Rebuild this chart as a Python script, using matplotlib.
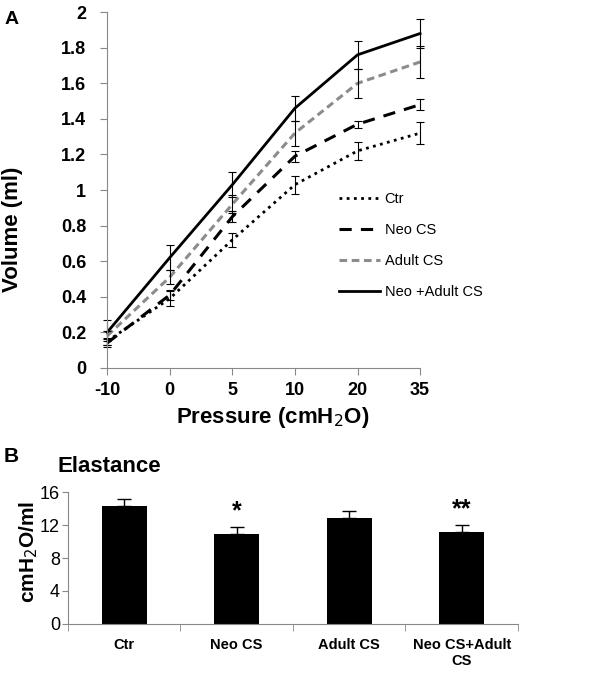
import matplotlib.pyplot as plt
import numpy as np

plt.rcParams['font.family'] = ['Liberation Sans', 'DejaVu Sans']

# Panel A: pressure-volume curves
pressure = ["-10", "0", "5", "10", "20", "35"]
vol_ctr = [0.15, 0.39, 0.72, 1.03, 1.22, 1.32]
err_ctr = [0.02, 0.04, 0.04, 0.05, 0.05, 0.06]
vol_neo = [0.14, 0.41, 0.85, 1.19, 1.37, 1.48]
err_neo = [0.02, 0.03, 0.03, 0.03, 0.02, 0.03]
vol_adult = [0.18, 0.51, 0.92, 1.32, 1.60, 1.72]
err_adult = [0.03, 0.04, 0.05, 0.07, 0.08, 0.09]
vol_both = [0.20, 0.62, 1.03, 1.46, 1.76, 1.88]
err_both = [0.07, 0.07, 0.07, 0.07, 0.08, 0.08]

# Panel B: elastance
groups = ["Ctr", "Neo CS", "Adult CS", "Neo CS+Adult\nCS"]
elastance = [14.3, 10.9, 12.8, 11.15]
elastance_err = [0.8, 0.85, 0.95, 0.85]
stars = ["", "*", "", "**"]

fig = plt.figure(figsize=(6.16, 6.75), dpi=100)

# ---- Panel A
ax = fig.add_axes([0.174, 0.455, 0.508, 0.527])
x = np.arange(len(pressure))
series = [
    (vol_ctr, err_ctr, "Ctr", dict(color="black", linestyle=(0, (1, 1.6)), lw=2)),
    (vol_neo, err_neo, "Neo CS", dict(color="black", linestyle=(0, (4, 3)), lw=2.2)),
    (vol_adult, err_adult, "Adult CS", dict(color="#8c8c8c", linestyle=(0, (2.5, 1.5)), lw=2.2)),
    (vol_both, err_both, "Neo +Adult CS", dict(color="black", linestyle="-", lw=2)),
]
for vals, errs, lab, style in series:
    ax.plot(x, vals, label=lab, clip_on=False, **style)
    eb = ax.errorbar(x, vals, yerr=errs, fmt="none", ecolor="black", elinewidth=0.8,
                     capsize=3, capthick=0.8)
    for art in eb.lines[1] + eb.lines[2]:
        art.set_clip_on(False)

ax.set_xlim(0, len(pressure) - 1)
ax.set_ylim(0, 2)
ax.set_xticks(x)
ax.set_xticklabels(pressure, fontweight="bold", fontsize=13)
ax.set_yticks(np.arange(0, 2.01, 0.2))
ax.set_yticklabels(["0", "0.2", "0.4", "0.6", "0.8", "1", "1.2", "1.4", "1.6", "1.8", "2"],
                   fontweight="bold", fontsize=13)
for s in ["top", "right"]:
    ax.spines[s].set_visible(False)
for s in ["left", "bottom"]:
    ax.spines[s].set_color("#888888")
ax.tick_params(colors="#888888", labelcolor="black", length=5)
ax.tick_params(axis="y", pad=10)
ax.tick_params(axis="x", pad=5)
ax.set_ylabel("Volume (ml)", fontweight="bold", fontsize=16)
ax.yaxis.set_label_coords(-0.27, 0.39)
ax.set_xlabel("Pressure (cmH$_2$O)", fontweight="bold", fontsize=16)
ax.xaxis.set_label_coords(0.53, -0.105)
ax.legend(loc="upper left", bbox_to_anchor=(0.7, 0.53), frameon=False, fontsize=10.5,
          handlelength=2.8, labelspacing=1.15, handletextpad=0.3)
fig.text(0.008, 0.965, "A", fontweight="bold", fontsize=14)

# ---- Panel B
bx = fig.add_axes([0.110, 0.0756, 0.731, 0.1954])
xb = np.arange(len(groups))
bx.bar(xb, elastance, width=0.4, color="black",
       yerr=[np.zeros(len(elastance)), elastance_err],
       error_kw=dict(ecolor="black", elinewidth=1, capsize=5, capthick=1))
for xi, v, e, st in zip(xb, elastance, elastance_err, stars):
    if st:
        bx.text(xi, v + e + 0.5, st, ha="center", va="bottom", fontweight="bold", fontsize=18)
bx.set_xlim(-0.5, len(groups) - 0.5)
bx.set_ylim(0, 16)
bx.set_yticks([0, 4, 8, 12, 16])
bx.tick_params(axis="y", labelsize=13, colors="#888888", labelcolor="black", length=4, pad=1.5)
bx.set_xticks(xb)
bx.set_xticklabels(groups, fontweight="bold", fontsize=10.5)
bx.tick_params(axis="x", length=0, pad=10)
bx.set_xticks(np.arange(-0.5, len(groups), 1), minor=True)
bx.tick_params(axis="x", which="minor", length=5, colors="#888888")
for s in ["top", "right"]:
    bx.spines[s].set_visible(False)
for s in ["left", "bottom"]:
    bx.spines[s].set_color("#888888")
bx.set_ylabel("cmH$_2$O/ml", fontweight="bold", fontsize=15)
bx.yaxis.set_label_coords(-0.062, 0.55)
fig.text(0.094, 0.300, "Elastance", fontweight="bold", fontsize=16)
fig.text(0.006, 0.316, "B", fontweight="bold", fontsize=15)

fig.savefig("out.png", dpi=100)
